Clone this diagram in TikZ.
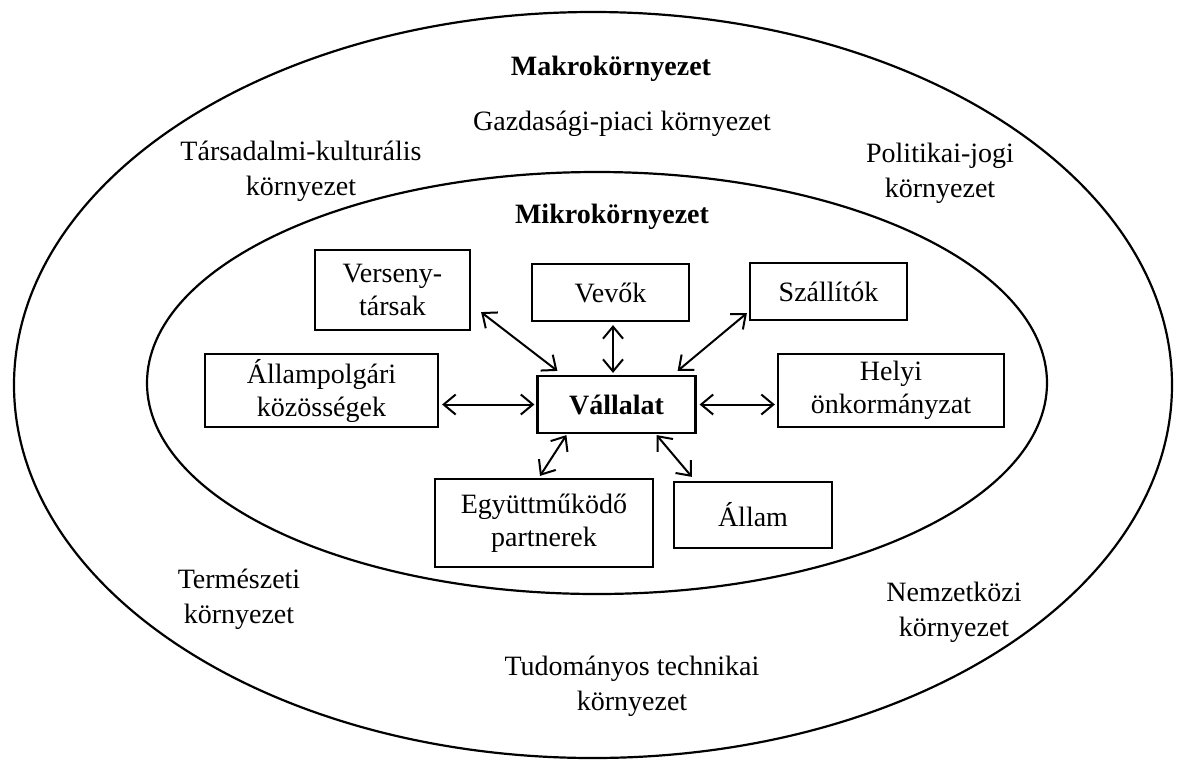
\documentclass[tikz,border=0pt]{standalone}
\usepackage{fontspec}
\setmainfont{Liberation Serif}
\usetikzlibrary{arrows.meta,calc}
\begin{document}
\begin{tikzpicture}[x=1pt,y=-1pt,
  every node/.style={font=\fontsize{28}{35}\selectfont, align=center, inner sep=0pt},
  box/.style={draw, line width=2.2pt, fill=white, font=\fontsize{28}{33}\selectfont},
  lbl/.style={},
  ell/.style={draw, line width=2.2pt},
  dbl/.style={line width=2pt, {Straight Barb[length=12pt,width=20pt,line width=2pt]}-{Straight Barb[length=12pt,width=20pt,line width=2pt]}}
]
\useasboundingbox (0,0) rectangle (1178,761);
\fill[white] (0,0) rectangle (1178,761);
\draw[ell] (593,385) ellipse [x radius=579, y radius=373];
\draw[ell] (597,383) ellipse [x radius=450, y radius=211];

\node[lbl] (makro) at (611,68.5) {\textbf{Makrokörnyezet}};
\node[lbl] (gazd) at (622,123.5) {Gazdasági-piaci környezet};
\node[lbl] (tars) at (301,171) {Társadalmi-kulturális\\környezet};
\node[lbl] (pol) at (940,173) {Politikai-jogi\\környezet};
\node[lbl] (mikro) at (612,217) {\textbf{Mikrokörnyezet}};
\node[lbl] (term) at (239,599) {Természeti\\környezet};
\node[lbl] (nemz) at (954,612) {Nemzetközi\\környezet};
\node[lbl] (tud) at (632,686) {Tudományos technikai\\környezet};

\node[box, minimum width=155pt, minimum height=80pt] (verseny) at (392.5,290) {Verseny-\\társak};
\node[box, minimum width=157pt, minimum height=57pt] (vevok) at (610.5,292.5) {Vevők};
\node[box, minimum width=157pt, minimum height=57pt] (szall) at (828.5,291.5) {Szállítók};
\node[box, minimum width=233pt, minimum height=73pt] (allamp) at (321.5,390.5) {Állampolgári\\közösségek};
\node[box, minimum width=158pt, minimum height=57pt] (vall) at (616.5,404.5) {\textbf{Vállalat}};
\node[box, minimum width=226pt, minimum height=73pt] (helyi) at (891,390.5) {Helyi\\önkormányzat};
\node[box, minimum width=218pt, minimum height=88pt] (egyutt) at (544,523) {Együttműködő\\partnerek};
\node[box, minimum width=158pt, minimum height=66pt] (allam) at (753,515) {Állam};

\draw[dbl] ($(verseny.south east)+(10,-19)$) -- ($(vall.north west)+(21,-4)$);
\draw[dbl] ($(vevok.south)+(2.5,3)$) -- ($(vall.north)+(-3.5,-2)$);
\draw[dbl] ($(szall.south west)+(-2,-8)$) -- ($(vall.north east)+(-19,-4)$);
\draw[dbl] ($(allamp.east |- vall.west)+(3,0)$) -- ($(vall.west)+(-2,0)$);
\draw[dbl] ($(vall.east)+(3,0)$) -- ($(helyi.west |- vall.east)+(-2,0)$);
\draw[dbl] ($(vall.south west)+(30,1)$) -- ($(egyutt.north)+(-4,-2)$);
\draw[dbl] ($(vall.south east)+(-40,1)$) -- ($(allam.north west)+(19,-4)$);
\end{tikzpicture}
\end{document}
